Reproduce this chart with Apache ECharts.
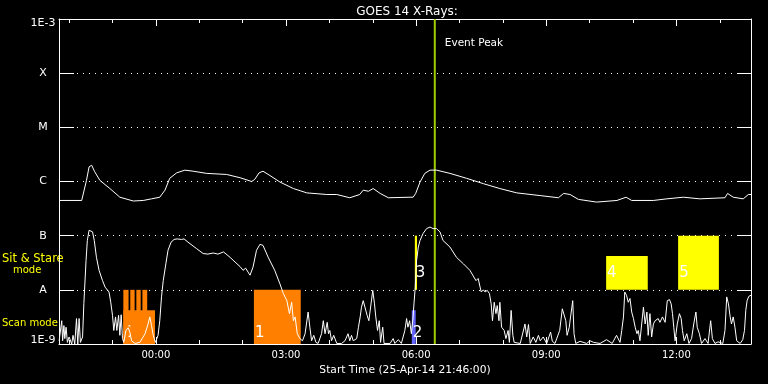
<!DOCTYPE html>
<html><head><meta charset="utf-8">
<script src="https://cdn.jsdelivr.net/npm/echarts@6/dist/echarts.min.js"></script>
<style>html,body{margin:0;background:#000}#c{width:768px;height:384px}</style>
</head><body><div id="c"></div>
<script>
// ---------- data ----------
const titleText = 'GOES 14 X-Rays:';
const startTimeLabel = 'Start Time (25-Apr-14 21:46:00)';
const axisStartHour = -2.2333;   // 21:46 on 25-Apr (hours relative to 00:00 26-Apr)
const axisEndHour = 13.72;
const xTickValues = [0, 3, 6, 9, 12];
const xTickLabels = ['00:00', '03:00', '06:00', '09:00', '12:00'];
const xMinorTickValues = [-2, -1, 1, 2, 4, 5, 7, 8, 10, 11, 13];
const yTickExponents = [-9, -8, -7, -6, -5, -4, -3];
const yTickLabels = ['1E-9', 'A', 'B', 'C', 'M', 'X', '1E-3'];
const eventPeakHour = 6.43;
const eventPeakText = 'Event Peak';

// [hour, log10 flux]  long channel (upper curve)
const longChannel = [[-2.23,-6.35],[-1.71,-6.35],[-1.68,-6.33],[-1.60,-5.98],[-1.54,-5.73],[-1.48,-5.70],[-1.41,-5.82],[-1.29,-5.98],[-1.06,-6.13],[-0.83,-6.29],[-0.52,-6.36],[-0.29,-6.35],[-0.10,-6.32],[0.09,-6.29],[0.21,-6.16],[0.32,-5.94],[0.48,-5.84],[0.67,-5.79],[0.86,-5.81],[1.17,-5.85],[1.63,-5.87],[1.94,-5.93],[2.21,-6.00],[2.28,-5.96],[2.38,-5.84],[2.47,-5.81],[2.63,-5.89],[2.86,-6.01],[3.17,-6.13],[3.48,-6.21],[3.94,-6.24],[4.17,-6.24],[4.47,-6.30],[4.70,-6.24],[4.78,-6.16],[4.90,-6.18],[5.01,-6.13],[5.17,-6.22],[5.36,-6.30],[5.86,-6.29],[5.93,-6.29],[5.99,-6.22],[6.09,-6.01],[6.20,-5.85],[6.32,-5.79],[6.47,-5.79],[6.78,-5.85],[7.16,-5.94],[7.55,-6.04],[7.93,-6.13],[8.32,-6.21],[8.86,-6.26],[9.28,-6.30],[9.40,-6.22],[9.55,-6.24],[9.74,-6.33],[10.16,-6.38],[10.63,-6.35],[10.84,-6.29],[10.97,-6.35],[11.47,-6.35],[11.78,-6.32],[12.16,-6.29],[12.54,-6.32],[13.12,-6.30],[13.18,-6.22],[13.31,-6.29],[13.54,-6.32],[13.66,-6.24],[13.72,-6.24]];

// [hour, log10 flux]  short channel (lower curve)
const shortChannel = [[-2.23,-8.94],[-2.17,-8.57],[-2.15,-8.94],[-2.12,-8.66],[-2.10,-8.90],[-2.07,-8.69],[-2.04,-8.97],[-2.00,-8.87],[-1.94,-9.0],[-1.91,-8.84],[-1.87,-9.0],[-1.83,-8.53],[-1.80,-9.0],[-1.77,-8.53],[-1.74,-8.97],[-1.69,-8.87],[-1.66,-8.25],[-1.61,-7.46],[-1.58,-7.09],[-1.54,-6.90],[-1.50,-6.89],[-1.46,-6.93],[-1.42,-7.09],[-1.37,-7.40],[-1.31,-7.64],[-1.23,-7.83],[-1.17,-7.95],[-1.14,-7.98],[-1.08,-8.04],[-1.04,-8.23],[-1.00,-8.47],[-0.97,-8.75],[-0.93,-8.50],[-0.90,-8.75],[-0.86,-8.47],[-0.83,-8.84],[-0.80,-8.46],[-0.77,-8.90],[-0.74,-8.97],[-0.69,-8.75],[-0.64,-8.70],[-0.60,-8.78],[-0.56,-8.94],[-0.48,-8.99],[-0.37,-8.97],[-0.25,-8.81],[-0.18,-8.63],[-0.14,-8.50],[-0.10,-8.66],[-0.06,-8.84],[-0.01,-8.97],[0.05,-8.84],[0.09,-8.57],[0.13,-8.13],[0.17,-7.83],[0.23,-7.52],[0.28,-7.27],[0.35,-7.12],[0.42,-7.07],[0.49,-7.06],[0.59,-7.07],[0.65,-7.06],[0.74,-7.12],[0.78,-7.15],[0.94,-7.24],[1.09,-7.33],[1.20,-7.34],[1.32,-7.32],[1.43,-7.34],[1.56,-7.30],[1.71,-7.40],[1.87,-7.52],[1.94,-7.57],[2.01,-7.64],[2.07,-7.60],[2.17,-7.73],[2.24,-7.58],[2.32,-7.27],[2.40,-7.16],[2.47,-7.18],[2.59,-7.40],[2.74,-7.64],[2.86,-7.89],[2.94,-8.07],[3.02,-8.20],[3.08,-8.44],[3.13,-8.23],[3.17,-8.57],[3.21,-8.50],[3.26,-8.81],[3.32,-8.90],[3.38,-8.94],[3.44,-8.81],[3.51,-8.41],[3.55,-8.69],[3.59,-8.94],[3.64,-8.84],[3.69,-8.97],[3.74,-8.99],[3.82,-8.81],[3.86,-8.57],[3.90,-8.81],[3.95,-8.60],[3.98,-8.81],[4.01,-8.75],[4.05,-8.94],[4.10,-8.84],[4.17,-8.99],[4.28,-8.99],[4.36,-8.94],[4.43,-8.81],[4.47,-8.94],[4.51,-8.84],[4.55,-8.94],[4.63,-8.90],[4.67,-8.69],[4.71,-8.50],[4.74,-8.32],[4.78,-8.20],[4.82,-8.23],[4.87,-8.47],[4.91,-8.57],[4.96,-8.26],[5.00,-8.01],[5.04,-8.26],[5.07,-8.50],[5.11,-8.75],[5.15,-8.57],[5.18,-8.97],[5.23,-8.69],[5.26,-8.99],[5.40,-8.99],[5.47,-8.90],[5.51,-8.99],[5.59,-8.92],[5.66,-8.99],[5.74,-8.75],[5.78,-8.53],[5.81,-8.69],[5.85,-8.57],[5.89,-8.81],[5.93,-8.50],[5.95,-8.26],[5.98,-7.95],[6.01,-7.46],[6.05,-7.21],[6.09,-7.09],[6.16,-6.96],[6.24,-6.87],[6.32,-6.84],[6.39,-6.87],[6.47,-6.87],[6.55,-6.93],[6.62,-7.09],[6.78,-7.21],[6.93,-7.40],[7.09,-7.52],[7.24,-7.64],[7.38,-7.83],[7.43,-7.79],[7.47,-7.78],[7.50,-8.04],[7.55,-8.00],[7.59,-8.04],[7.64,-8.01],[7.69,-8.07],[7.73,-8.26],[7.76,-8.57],[7.80,-8.23],[7.84,-8.44],[7.87,-8.29],[7.91,-8.57],[7.93,-8.23],[7.97,-8.69],[8.03,-8.75],[8.07,-8.90],[8.12,-8.75],[8.15,-8.97],[8.19,-8.38],[8.23,-8.84],[8.26,-8.97],[8.40,-8.99],[8.51,-8.63],[8.55,-8.87],[8.59,-8.64],[8.63,-8.99],[8.70,-8.87],[8.76,-8.97],[8.82,-8.84],[8.86,-8.94],[8.93,-8.87],[9.01,-8.99],[9.10,-8.78],[9.14,-8.95],[9.20,-8.99],[9.31,-8.75],[9.37,-8.35],[9.41,-8.38],[9.45,-8.57],[9.48,-8.84],[9.53,-8.69],[9.56,-8.50],[9.61,-8.20],[9.64,-8.81],[9.68,-8.99],[9.78,-8.95],[9.93,-8.99],[10.01,-8.94],[10.09,-8.97],[10.24,-8.99],[10.39,-8.92],[10.52,-8.99],[10.62,-8.84],[10.70,-8.97],[10.74,-8.75],[10.78,-8.50],[10.81,-8.04],[10.85,-8.10],[10.89,-8.23],[10.93,-8.16],[10.97,-8.41],[11.01,-8.53],[11.05,-8.69],[11.09,-8.81],[11.12,-8.75],[11.16,-8.94],[11.20,-8.63],[11.24,-8.32],[11.28,-8.63],[11.32,-8.41],[11.35,-8.84],[11.39,-8.44],[11.43,-8.87],[11.47,-8.63],[11.51,-8.57],[11.54,-8.60],[11.58,-8.53],[11.62,-8.60],[11.68,-8.50],[11.74,-8.60],[11.79,-8.20],[11.84,-8.18],[11.88,-8.26],[11.91,-8.44],[11.94,-8.69],[11.97,-8.94],[12.02,-8.63],[12.07,-8.44],[12.11,-8.53],[12.14,-8.75],[12.18,-8.94],[12.24,-8.81],[12.29,-8.99],[12.35,-8.90],[12.40,-8.63],[12.45,-8.41],[12.48,-8.69],[12.53,-8.81],[12.58,-8.99],[12.66,-8.90],[12.73,-8.99],[12.79,-8.57],[12.83,-8.90],[12.89,-8.99],[12.96,-8.96],[13.07,-8.99],[13.12,-8.75],[13.16,-8.13],[13.20,-8.26],[13.24,-8.50],[13.27,-8.63],[13.31,-8.50],[13.35,-8.69],[13.39,-8.94],[13.47,-8.99],[13.53,-8.92],[13.57,-8.75],[13.60,-8.38],[13.63,-8.20],[13.67,-8.12],[13.72,-8.10]];

// observation blocks
const blockLabel     = ['0', '', '', '', '', '1', '2', '3', '4', '5'];
const blockKind      = ['scan','scan','scan','scan','scan','scan','scan2','stare','stare','stare'];
const blockStartHour = [-0.75, -0.75, -0.59, -0.45, -0.31, 2.26, 5.90, 5.97, 10.38, 12.04];
const blockEndHour   = [-0.02, -0.63, -0.49, -0.35, -0.20, 3.34, 5.99, 6.02, 11.34, 12.98];
const blockLowFlux   = [1e-9, 1e-9, 1e-9, 1e-9, 1e-9, 1e-9, 1e-9, 1e-8, 1e-8, 1e-8];
const blockHighFlux  = [4.2e-9, 1e-8, 1e-8, 1e-8, 1e-8, 1e-8, 4.2e-9, 1e-7, 4.2e-8, 1e-7];

// ---------- styles ----------
const FONT = 'DejaVu Sans';
const kindColor = { scan: '#ff8000', scan2: '#6464ff', stare: '#ffff00' };
const kindLabelOffset = { scan: 10.5, scan2: 10.5, stare: 17 };

const toSeries = arr => arr.map(p => [p[0], Math.pow(10, p[1])]);
const blockData = blockStartHour.map((s, i) => [s, blockEndHour[i], blockLowFlux[i], blockHighFlux[i], i]);

const chart = echarts.init(document.getElementById('c'), null, { renderer: 'canvas' });

function xAxisCfg(pos, major, showLine, withLabels) {
  const ticks = major ? xTickValues : xMinorTickValues;
  return {
    type: 'value', position: pos, min: axisStartHour, max: axisEndHour,
    axisLine: { show: showLine, onZero: false, lineStyle: { color: '#fff', width: 1 } },
    axisTick: { show: true, inside: true, length: major ? 7 : 4, customValues: ticks, lineStyle: { color: '#fff', width: 1 } },
    axisLabel: withLabels ? {
      show: true, customValues: xTickValues, color: '#fff', fontFamily: FONT, fontSize: 10, margin: 6,
      formatter: v => xTickLabels[xTickValues.indexOf(Math.round(v))] || ''
    } : { show: false },
    splitLine: { show: false },
    name: withLabels ? startTimeLabel : '',
    nameLocation: 'middle', nameGap: 18,
    nameTextStyle: { color: '#fff', fontFamily: FONT, fontSize: 10.7 }
  };
}

const option = {
  backgroundColor: '#000',
  animation: false,
  title: {
    text: titleText, left: 402, top: 1, textAlign: 'center',
    textStyle: { color: '#fff', fontFamily: FONT, fontSize: 12, fontWeight: 'normal' }
  },
  grid: { left: 59, right: 17, top: 19, bottom: 40, containLabel: false },
  xAxis: [
    xAxisCfg('bottom', true, true, true),
    xAxisCfg('bottom', false, false, false),
    xAxisCfg('top', true, true, false),
    xAxisCfg('top', false, false, false)
  ],
  yAxis: [
    {
      type: 'log', logBase: 10, min: 1e-9, max: 1e-3, position: 'left',
      axisLine: { show: true, onZero: false, lineStyle: { color: '#fff' } },
      axisTick: { show: true, inside: true, length: 15, lineStyle: { color: '#fff' } },
      axisLabel: {
        show: true, color: '#fff', fontFamily: FONT, fontSize: 11, align: 'center', margin: 16,
        formatter: v => {
          const e = Math.round(Math.log10(v));
          const t = yTickLabels[yTickExponents.indexOf(e)] || '';
          if (e === -3) return '{top|' + t + '}';
          if (e === -9) return '{bot|' + t + '}';
          return t;
        },
        rich: {
          top: { color: '#fff', fontFamily: FONT, fontSize: 11, padding: [8, 0, 0, 0] },
          bot: { color: '#fff', fontFamily: FONT, fontSize: 11, padding: [0, 0, 7, 0] }
        }
      },
      splitLine: { show: true, lineStyle: { color: '#fff', width: 1, type: [1, 5] } }
    },
    {
      type: 'log', logBase: 10, min: 1e-9, max: 1e-3, position: 'right',
      axisLine: { show: true, onZero: false, lineStyle: { color: '#fff' } },
      axisTick: { show: true, inside: true, length: 14, lineStyle: { color: '#fff' } },
      axisLabel: { show: false },
      splitLine: { show: false }
    }
  ],
  graphic: [
    { type: 'text', left: 2, top: 253, style: { text: 'Sit & Stare', fill: '#ffff00', font: '11.5px "DejaVu Sans"' } },
    { type: 'text', left: 13, top: 265, style: { text: 'mode', fill: '#ffff00', font: '10px "DejaVu Sans"' } },
    { type: 'text', left: 2, top: 318, style: { text: 'Scan mode', fill: '#ffff00', font: '10px "DejaVu Sans"' } }
  ],
  series: [
    {
      type: 'custom', name: 'blocks', xAxisIndex: 0, yAxisIndex: 0,
      encode: { x: [0, 1], y: [2, 3] },
      data: blockData,
      renderItem: (params, api) => {
        const i = api.value(4);
        const p0 = api.coord([api.value(0), api.value(3)]);
        const p1 = api.coord([api.value(1), api.value(2)]);
        const kind = blockKind[i];
        const children = [{
          type: 'rect',
          shape: { x: p0[0], y: p0[1], width: p1[0] - p0[0], height: p1[1] - p0[1] },
          style: { fill: kindColor[kind] }
        }];
        if (blockLabel[i]) {
          children.push({
            type: 'text',
            style: {
              text: blockLabel[i], x: p0[0] + 1, y: p1[1] - kindLabelOffset[kind],
              fill: '#fff', font: '15px "DejaVu Sans"', verticalAlign: 'middle', align: 'left'
            }
          });
        }
        return { type: 'group', children };
      }
    },
    {
      type: 'line', name: 'long', xAxisIndex: 0, yAxisIndex: 0,
      data: toSeries(longChannel), showSymbol: false, symbol: 'none',
      lineStyle: { color: '#fff', width: 1 }
    },
    {
      type: 'line', name: 'short', xAxisIndex: 0, yAxisIndex: 0,
      data: toSeries(shortChannel), showSymbol: false, symbol: 'none',
      lineStyle: { color: '#fff', width: 1 }
    },
    {
      type: 'custom', name: 'event', xAxisIndex: 0, yAxisIndex: 0,
      data: [[eventPeakHour, 1e-3]],
      renderItem: (params, api) => {
        const t = api.value(0);
        const top = api.coord([t, 1e-3]);
        const bot = api.coord([t, 1e-9]);
        return {
          type: 'group', children: [
            { type: 'line', shape: { x1: top[0], y1: top[1], x2: bot[0], y2: bot[1] }, style: { stroke: '#a0cc00', lineWidth: 2 } },
            { type: 'text', style: { text: eventPeakText, x: top[0] + 10, y: top[1] + 24, fill: '#fff', font: '10.5px "DejaVu Sans"', verticalAlign: 'middle' } }
          ]
        };
      }
    }
  ]
};
chart.setOption(option);
</script>
</body></html>
